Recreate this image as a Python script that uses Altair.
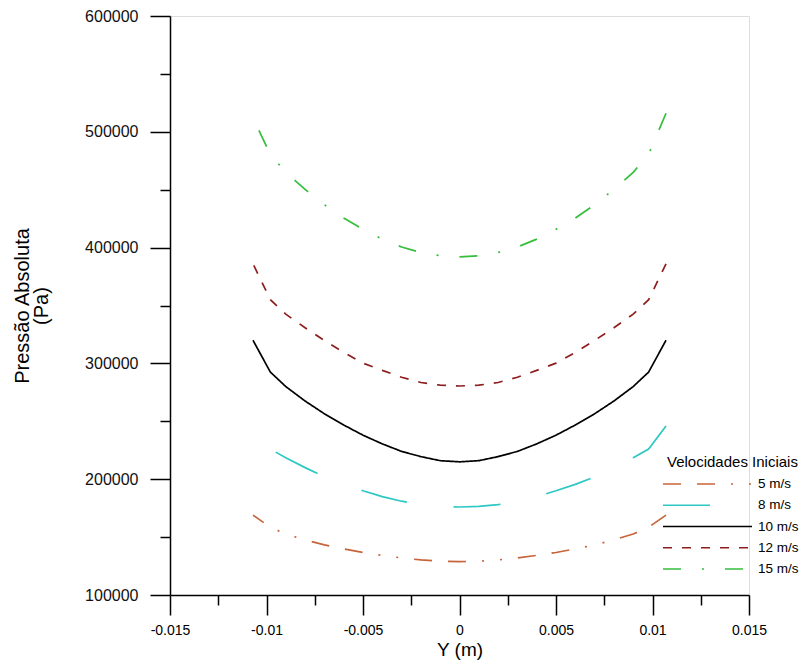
import altair as alt
import pandas as pd

# ---------------- data ----------------
x_vals = [-0.0107, -0.0098, -0.009, -0.008, -0.007, -0.006, -0.005, -0.004, -0.003, -0.002, -0.001, 0.0,
          0.001, 0.002, 0.003, 0.004, 0.005, 0.006, 0.007, 0.008, 0.009, 0.0098, 0.0107]

p_5 = [169000, 158500, 152700, 147600, 143300, 139800, 136700, 134200, 132000, 130300, 129200, 128800,
       129200, 130300, 132000, 134200, 136700, 139800, 143300, 147600, 152700, 158500, 169000]
p_8 = [246000, 226000, 218500, 210000, 202000, 195500, 190000, 185000, 181000, 178000, 176500, 176000,
       176500, 178000, 181000, 185000, 190000, 195500, 202000, 210000, 218500, 226000, 246000]
p_10 = [320000, 292500, 280000, 267500, 256500, 246800, 238000, 230500, 224000, 219500, 216000, 215000,
        216000, 219500, 224000, 230500, 238000, 246800, 256500, 267500, 280000, 292500, 320000]
p_12 = [386000, 355000, 342500, 330800, 319800, 309500, 300200, 294000, 288000, 283500, 281200, 280500,
        281200, 283500, 288000, 294000, 300200, 309500, 319800, 330800, 342500, 355000, 386000]
p_15 = [512000, 480500, 465000, 450300, 437000, 425500, 415800, 407300, 400500, 395800, 393000, 392000,
        393000, 395800, 400500, 407300, 415800, 425500, 437000, 450300, 465000, 480500, 516000]

series_names = ["5 m/s", "8 m/s", "10 m/s", "12 m/s", "15 m/s"]
series_values = [p_5, p_8, p_10, p_12, p_15]
series_colors = ["#C8643A", "#2EC8C4", "#000000", "#8E1E1E", "#35BE3C"]
series_dashes = [[18, 16, 18, 16, 2, 16, 2, 16], [47, 47], [1, 0], [9, 10], [18, 21, 2, 21]]

x_ticks = [-0.015, -0.0125, -0.01, -0.0075, -0.005, -0.0025, 0, 0.0025, 0.005, 0.0075, 0.01, 0.0125, 0.015]
y_ticks = [100000, 150000, 200000, 250000, 300000, 350000, 400000, 450000, 500000, 550000, 600000]

legend_title = "Velocidades Iniciais"

rows = []
for name, vals in zip(series_names, series_values):
    for xv, pv in zip(x_vals, vals):
        rows.append({"x": xv, "P": pv, "series": name})
df = pd.DataFrame(rows)
legend_df = pd.DataFrame({"series": series_names})

FONT = "Liberation Sans"

color_enc = alt.Color("series:N", scale=alt.Scale(domain=series_names, range=series_colors), legend=None)
dash_enc = alt.StrokeDash("series:N", scale=alt.Scale(domain=series_names, range=series_dashes), legend=None)

x_axis = alt.Axis(
    values=x_ticks,
    labelExpr="abs(round(datum.value*2000)) % 2 == 1 ? '' : '' + datum.value",
    tickSize={"condition": {"test": "abs(round(datum.value*2000)) % 2 == 1", "value": 10}, "value": 20},
    tickColor="black", tickWidth=1.5, domainColor="black", domainWidth=1.5,
    labelFont=FONT, labelFontSize=14, labelColor="black", labelPadding=8,
    title="Y (m)", titleFont=FONT, titleFontSize=19, titleFontWeight="normal", titleColor="black",
    titlePadding=3, grid=False, labelFlush=False,
)
y_axis = alt.Axis(
    values=y_ticks,
    labelExpr="round(datum.value/50000) % 2 == 1 ? '' : '' + datum.value",
    tickSize={"condition": {"test": "round(datum.value/50000) % 2 == 1", "value": 10}, "value": 20},
    tickColor="black", tickWidth=1.5, domainColor="black", domainWidth=1.5,
    labelFont=FONT, labelFontSize=16, labelColor="#111111", labelPadding=12,
    title=["Pressão Absoluta", "(Pa)"], titleFont=FONT, titleFontSize=20, titleFontWeight="normal",
    titleColor="black", titlePadding=33, titleLineHeight=19, grid=False, labelFlush=False,
)

lines = alt.Chart(df).mark_line(strokeWidth=1.7, clip=False).encode(
    x=alt.X("x:Q", scale=alt.Scale(domain=[-0.015, 0.015], nice=False, zero=False), axis=x_axis),
    y=alt.Y("P:Q", scale=alt.Scale(domain=[100000, 600000], nice=False, zero=False), axis=y_axis),
    color=color_enc,
    strokeDash=dash_enc,
    order=alt.Order("x:Q", sort="descending"),
    detail="series:N",
)

leg_y = alt.Y("series:N", scale=alt.Scale(type="point", domain=series_names, range=[468, 553], padding=0), axis=None)

leg_rules = alt.Chart(legend_df).mark_rule(strokeWidth=1.7).encode(
    y=leg_y, x=alt.value(493), x2=alt.value(582), color=color_enc, strokeDash=dash_enc,
)
leg_text = alt.Chart(legend_df).mark_text(align="left", baseline="middle", font=FONT, fontSize=13.5, color="black").encode(
    y=leg_y, x=alt.value(588), text="series:N",
)
leg_title = alt.Chart(pd.DataFrame({"t": [legend_title]})).mark_text(
    align="left", baseline="middle", font=FONT, fontSize=15, color="black"
).encode(x=alt.value(497), y=alt.value(446), text="t:N")

chart = alt.layer(lines, leg_rules, leg_text, leg_title).resolve_scale(y="independent").properties(
    width=579, height=579,
    autosize=alt.AutoSizeParams(type="none"),
    padding={"left": 162, "top": 8, "right": 50, "bottom": 68},
).configure_view(stroke=None).configure(background="white")

chart.save("out.html", embed_options={"renderer": "svg", "actions": False})
